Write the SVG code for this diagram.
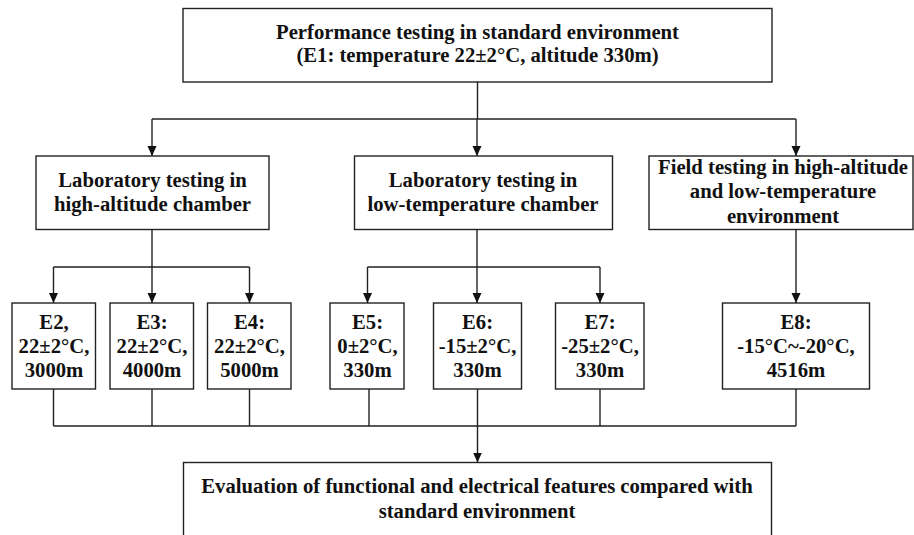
<svg xmlns="http://www.w3.org/2000/svg" width="914" height="535" viewBox="0 0 914 535">
<style>
.box{fill:#fff;stroke:#222;stroke-width:1.4}
.c{fill:none;stroke:#222;stroke-width:1.4}
.t{font-family:'Liberation Serif','Times New Roman',serif;font-weight:bold;font-size:20.7px;fill:#111;text-anchor:middle}
</style>
<defs>
<marker id="a" markerWidth="10" markerHeight="11" refX="10" refY="5" orient="auto" markerUnits="userSpaceOnUse" viewBox="0 0 10 10">
<path d="M0,0.5 L10,5 L0,9.5 Z" fill="#111"/>
</marker>
</defs>
<rect width="914" height="535" fill="#fff"/>
<g id="connectors">
<path class="c" d="M477.5,82 V119"/>
<path class="c" d="M152,119 H796"/>
<path class="c" d="M152,119 V156" marker-end="url(#a)"/>
<path class="c" d="M477,119 V156" marker-end="url(#a)"/>
<path class="c" d="M796,119 V156" marker-end="url(#a)"/>
<path class="c" d="M152,229.5 V267 M53.5,267 H249.5"/>
<path class="c" d="M53.5,267 V303" marker-end="url(#a)"/>
<path class="c" d="M152,267 V303" marker-end="url(#a)"/>
<path class="c" d="M249.5,267 V303" marker-end="url(#a)"/>
<path class="c" d="M477,229.5 V267 M367.5,267 H600"/>
<path class="c" d="M367.5,267 V303" marker-end="url(#a)"/>
<path class="c" d="M477,267 V303" marker-end="url(#a)"/>
<path class="c" d="M600,267 V303" marker-end="url(#a)"/>
<path class="c" d="M796,229.5 V303" marker-end="url(#a)"/>
<path class="c" d="M53.5,389 V426 M152,389 V426 M249.5,389 V426 M369,389 V426 M600,389 V426 M796,389 V426 M53.5,426 H796"/>
<path class="c" d="M477.5,389 V462.5" marker-end="url(#a)"/>
</g>
<g id="n-e1">
<rect class="box" x="183" y="8.5" width="589" height="73.5"/>
<text class="t" x="477.5" y="39">Performance testing in standard environment</text>
<text class="t" x="477.5" y="62">(E1: temperature 22±2°C, altitude 330m)</text>
</g>
<g id="n-lab-alt">
<rect class="box" x="36" y="156" width="233" height="73.5"/>
<text class="t" x="152.5" y="187">Laboratory testing in</text>
<text class="t" x="152.5" y="211">high-altitude chamber</text>
</g>
<g id="n-lab-temp">
<rect class="box" x="354.5" y="156" width="258" height="73.5"/>
<text class="t" x="483" y="187">Laboratory testing in</text>
<text class="t" x="483" y="211">low-temperature chamber</text>
</g>
<g id="n-field">
<rect class="box" x="649" y="156" width="264" height="73.5"/>
<text class="t" x="783" y="173.5">Field testing in high-altitude</text>
<text class="t" x="783" y="198">and low-temperature</text>
<text class="t" x="783" y="222.5">environment</text>
</g>
<g id="n-e2">
<rect class="box" x="12" y="303" width="83.5" height="86"/>
<text class="t" x="54" y="328.5">E2,</text>
<text class="t" x="54" y="352.5">22±2°C,</text>
<text class="t" x="54" y="376.5">3000m</text>
</g>
<g id="n-e3">
<rect class="box" x="110" y="303" width="83.5" height="86"/>
<text class="t" x="152" y="328.5">E3:</text>
<text class="t" x="152" y="352.5">22±2°C,</text>
<text class="t" x="152" y="376.5">4000m</text>
</g>
<g id="n-e4">
<rect class="box" x="207.5" y="303" width="83.5" height="86"/>
<text class="t" x="249.5" y="328.5">E4:</text>
<text class="t" x="249.5" y="352.5">22±2°C,</text>
<text class="t" x="249.5" y="376.5">5000m</text>
</g>
<g id="n-e5">
<rect class="box" x="330" y="303" width="74" height="86"/>
<text class="t" x="367.5" y="328.5">E5:</text>
<text class="t" x="367.5" y="352.5">0±2°C,</text>
<text class="t" x="367.5" y="376.5">330m</text>
</g>
<g id="n-e6">
<rect class="box" x="433.5" y="303" width="88" height="86"/>
<text class="t" x="477.5" y="328.5">E6:</text>
<text class="t" x="477.5" y="352.5">-15±2°C,</text>
<text class="t" x="477.5" y="376.5">330m</text>
</g>
<g id="n-e7">
<rect class="box" x="555.5" y="303" width="88.5" height="86"/>
<text class="t" x="600" y="328.5">E7:</text>
<text class="t" x="600" y="352.5">-25±2°C,</text>
<text class="t" x="600" y="376.5">330m</text>
</g>
<g id="n-e8">
<rect class="box" x="722.5" y="303" width="147" height="86"/>
<text class="t" x="796" y="328.5">E8:</text>
<text class="t" x="796" y="352.5">-15°C~-20°C,</text>
<text class="t" x="796" y="376.5">4516m</text>
</g>
<g id="n-eval">
<rect class="box" x="183.5" y="462.5" width="588" height="80"/>
<text class="t" x="477" y="493">Evaluation of functional and electrical features compared with</text>
<text class="t" x="477" y="517.5">standard environment</text>
</g>
</svg>
